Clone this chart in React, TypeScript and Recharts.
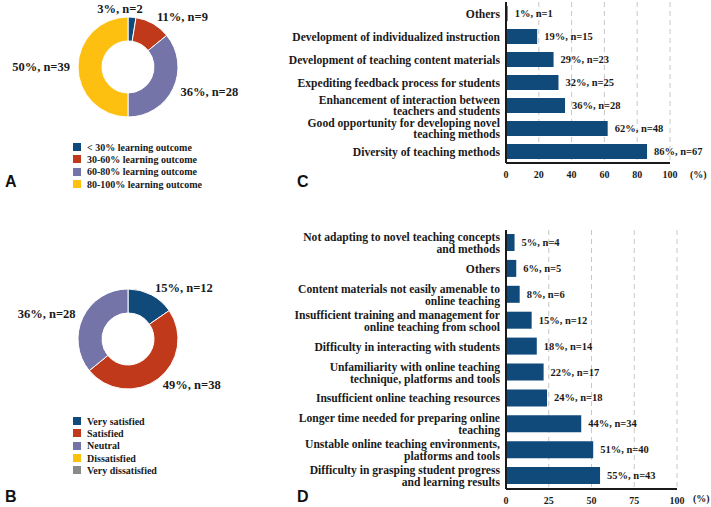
import {
  PieChart, Pie, Cell, Legend, BarChart, Bar, XAxis, YAxis, CartesianGrid, LabelList,
} from "recharts";

const serif = '"Liberation Serif", "Times New Roman", serif';
const sans = '"Liberation Sans", Arial, sans-serif';
const ink = "#1a1a1a";
const navy = "#0f4a7b";
const red = "#c0391a";
const lilac = "#7574a8";
const gold = "#fec010";
const grey = "#8a8a8a";

// A: learning outcome
const outcomeLabels = [
  "< 30% learning outcome",
  "30-60% learning outcome",
  "60-80% learning outcome",
  "80-100% learning outcome",
];
const outcomeN = [2, 9, 28, 39];
const outcomePct = [3, 11, 36, 50];
const outcomeColors = [navy, red, lilac, gold];

// B: satisfaction
const satisfactionLabels = ["Very satisfied", "Satisfied", "Neutral", "Dissatisfied", "Very dissatisfied"];
const satisfactionN = [12, 38, 28, 0, 0];
const satisfactionPct = [15, 49, 36, 0, 0];
const satisfactionColors = [navy, red, lilac, gold, grey];

// C: advantages (top to bottom)
const advantageLabels = [
  "Others",
  "Development of individualized instruction",
  "Development of teaching content materials",
  "Expediting feedback process for students",
  "Enhancement of interaction between\nteachers and students",
  "Good opportunity for developing novel\nteaching methods",
  "Diversity of teaching methods",
];
const advantagePct = [1, 19, 29, 32, 36, 62, 86];
const advantageN = [1, 15, 23, 25, 28, 48, 67];
const advantageTicks = [0, 20, 40, 60, 80, 100];

// D: challenges (top to bottom)
const challengeLabels = [
  "Not adapting to novel teaching concepts\nand methods",
  "Others",
  "Content materials not easily amenable to\nonline teaching",
  "Insufficient training and management for\nonline teaching from school",
  "Difficulty in interacting with students",
  "Unfamiliarity with online teaching\ntechnique, platforms and tools",
  "Insufficient online teaching resources",
  "Longer time needed for preparing online\nteaching",
  "Unstable online teaching environments,\nplatforms and tools",
  "Difficulty in grasping student progress\nand learning results",
];
const challengePct = [5, 6, 8, 15, 18, 22, 24, 44, 51, 55];
const challengeN = [4, 5, 6, 12, 14, 17, 18, 34, 40, 43];
const challengeTicks = [0, 25, 50, 75, 100];

function Donut({ labels, n, pct, colors, cy, legendTop }: any) {
  const data = labels.map((name: string, i: number) => ({
    name, value: n[i], pct: pct[i], color: colors[i],
  }));

  const renderLabel = (p: any) => {
    if (!p.value) return null;
    const a = (-p.midAngle * Math.PI) / 180;
    const r = p.outerRadius + 8;
    const c = Math.cos(a);
    const x = p.cx + r * c;
    const y = p.cy + r * Math.sin(a);
    // near-vertical labels sit centred over the ring
    const anchor = Math.abs(c) < 0.2 ? "middle" : c > 0 ? "start" : "end";
    return (
      <text x={anchor === "middle" ? p.cx - 8 : x} y={y} textAnchor={anchor} dominantBaseline="central"
        fontFamily={serif} fontWeight={700} fontSize={12.5} fill={ink}>
        {`${p.payload.pct}%, n=${p.value}`}
      </text>
    );
  };

  return (
    <PieChart width={240} height={250} margin={{ top: 0, right: 0, bottom: 0, left: 0 }}>
      <Pie
        data={data}
        dataKey="value"
        cx={128}
        cy={cy}
        innerRadius={26}
        outerRadius={50}
        startAngle={90}
        endAngle={-270}
        stroke="#fff"
        strokeWidth={1}
        label={renderLabel}
        labelLine={false}
        isAnimationActive={false}
      >
        {data.map((d: any) => <Cell key={d.name} fill={d.color} />)}
      </Pie>
      <Legend
        wrapperStyle={{ left: 73, top: legendTop, width: 160, bottom: "auto" }}
        content={() => (
          <div>
            {data.map((d: any) => (
              <div key={d.name} style={{ display: "flex", alignItems: "center", height: 12.3 }}>
                <span style={{ width: 8, height: 8, background: d.color, marginRight: 6, flex: "none" }} />
                <span style={{ fontFamily: serif, fontWeight: 700, fontSize: 10, color: ink, whiteSpace: "nowrap" }}>
                  {d.name}
                </span>
              </div>
            ))}
          </div>
        )}
      />
    </PieChart>
  );
}

function CategoryTick({ x, y, payload, lh }: any) {
  const lines = String(payload.value).split("\n");
  const y0 = y - ((lines.length - 1) * lh) / 2;
  return (
    <text x={x} y={y0} textAnchor="end" fontFamily={serif} fontWeight={700} fontSize={11.6} fill={ink}>
      {lines.map((l, i) => (
        <tspan key={i} x={x} y={y0 + i * lh} dy="0.35em">{l}</tspan>
      ))}
    </text>
  );
}

const BarTag = (p: any) => (
  <text x={p.x + p.width + 7} y={p.y + p.height / 2} dominantBaseline="central"
    fontFamily={serif} fontWeight={700} fontSize={10.5} fill={ink}>
    {p.value}
  </text>
);

function HBar({ labels, pct, n, ticks, width, height, right, barSize, axisHeight, unitOffset, lh }: any) {
  const data = labels.map((name: string, i: number) => ({
    name, pct: pct[i], tag: `${pct[i]}%, n=${n[i]}`,
  }));
  const tickStyle = { fontFamily: serif, fontWeight: 700, fontSize: 10, fill: ink };
  return (
    <BarChart
      layout="vertical"
      width={width}
      height={height}
      data={data}
      margin={{ top: 2, right, bottom: 0, left: 0 }}
      barCategoryGap={0}
    >
      <CartesianGrid horizontal={false} stroke="#c8c8c8" strokeDasharray="5 4" />
      <XAxis
        type="number"
        domain={[0, 100]}
        ticks={ticks}
        interval={0}
        height={axisHeight}
        tickLine={false}
        tickSize={6}
        axisLine={{ stroke: ink, strokeWidth: 2 }}
        tick={tickStyle}
        label={{ value: "(%)", position: "right", offset: unitOffset, ...tickStyle }}
      />
      <YAxis
        type="category"
        dataKey="name"
        width={266}
        interval={0}
        tickLine={false}
        tickSize={4}
        tickMargin={2}
        axisLine={{ stroke: ink, strokeWidth: 2 }}
        tick={<CategoryTick lh={lh} />}
      />
      <Bar dataKey="pct" fill={navy} barSize={barSize} isAnimationActive={false}>
        <LabelList dataKey="tag" content={BarTag} />
      </Bar>
    </BarChart>
  );
}

const letter = (ch: string, left: number, baseline: number) => (
  <span style={{
    position: "absolute", left, top: baseline - 13.5, fontFamily: sans, fontWeight: 700,
    fontSize: 16, lineHeight: 1, color: "#111",
  }}>{ch}</span>
);

export default function App() {
  return (
    <div style={{ position: "absolute", left: 0, top: 0, width: 711, height: 507, overflow: "hidden", background: "#fff" }}>
      <div style={{ position: "absolute", left: 0, top: 0 }}>
        <Donut labels={outcomeLabels} n={outcomeN} pct={outcomePct} colors={outcomeColors} cy={67} legendTop={141} />
      </div>
      <div style={{ position: "absolute", left: 0, top: 250 }}>
        <Donut labels={satisfactionLabels} n={satisfactionN} pct={satisfactionPct} colors={satisfactionColors} cy={89} legendTop={165} />
      </div>
      <div style={{ position: "absolute", left: 240, top: 0 }}>
        <HBar labels={advantageLabels} pct={advantagePct} n={advantageN} ticks={advantageTicks}
          width={471} height={185} right={41} barSize={15} axisHeight={22} unitOffset={20} lh={10.6} />
      </div>
      <div style={{ position: "absolute", left: 240, top: 228 }}>
        <HBar labels={challengeLabels} pct={challengePct} n={challengeN} ticks={challengeTicks}
          width={471} height={279} right={34} barSize={17} axisHeight={18} unitOffset={16} lh={12} />
      </div>
      {letter("A", 5, 187)}
      {letter("C", 297, 187)}
      {letter("B", 5, 502)}
      {letter("D", 297, 502)}
    </div>
  );
}
